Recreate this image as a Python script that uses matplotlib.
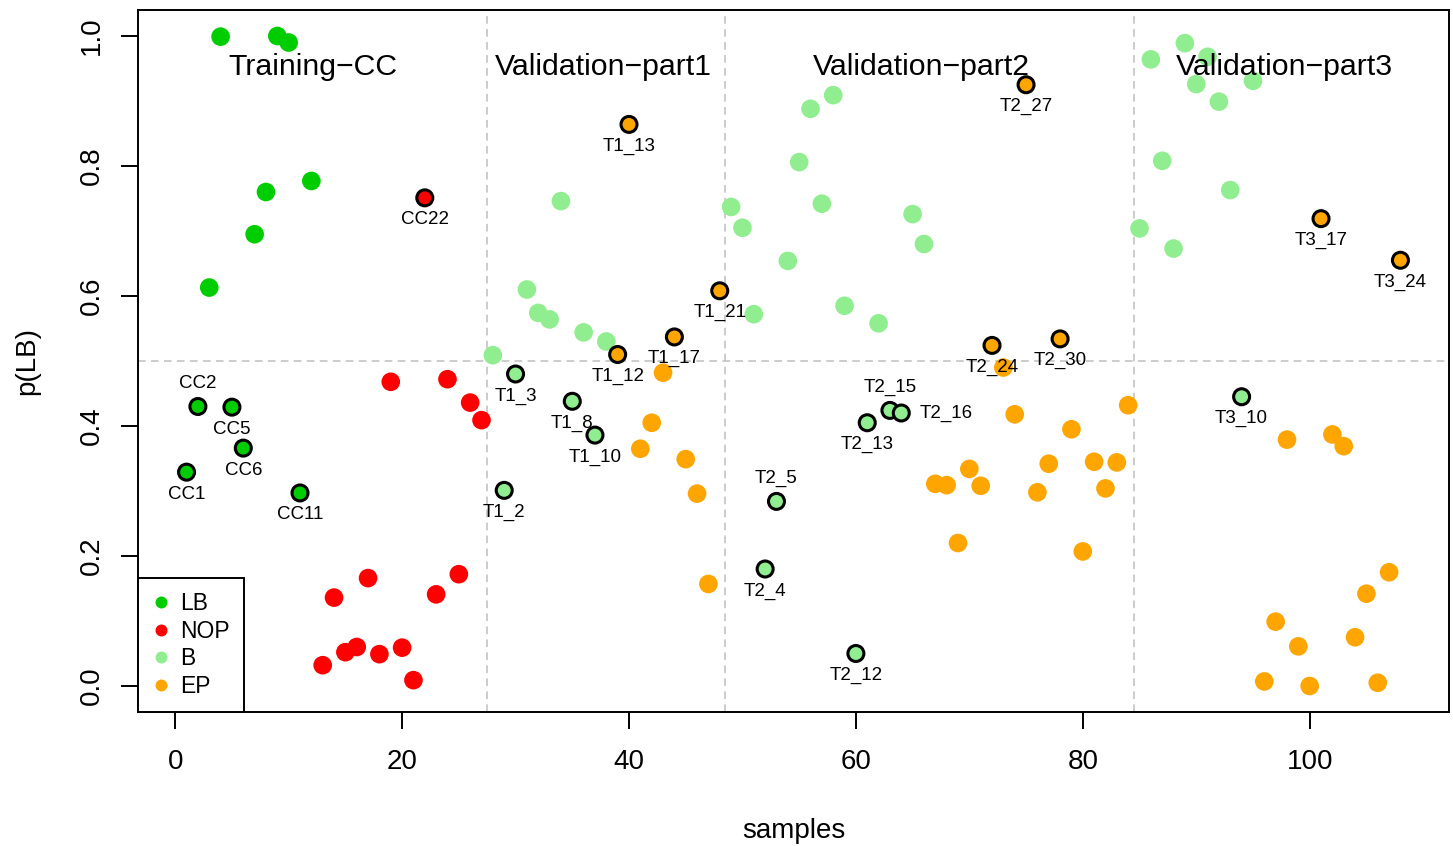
#!/usr/bin/env python3

import numpy as np
import matplotlib
matplotlib.use("Agg")
import matplotlib.pyplot as plt
from matplotlib.lines import Line2D

plt.rcParams['font.family'] = ['Liberation Sans', 'DejaVu Sans']

# p(LB) per sample, by group
training_p = [0.329, 0.430, 0.613, 0.999, 0.429, 0.366, 0.695, 0.760, 1.000,
              0.990, 0.297, 0.777, 0.032, 0.136, 0.052, 0.060, 0.166, 0.049,
              0.468, 0.059, 0.009, 0.751, 0.141, 0.472, 0.172, 0.436, 0.409]
part1_p = [0.509, 0.301, 0.480, 0.610, 0.574, 0.564, 0.746, 0.438, 0.544,
           0.386, 0.530, 0.510, 0.864, 0.365, 0.405, 0.482, 0.537, 0.349,
           0.296, 0.157, 0.608]
part2_p = [0.737, 0.705, 0.572, 0.180, 0.284, 0.654, 0.806, 0.888, 0.742,
           0.909, 0.585, 0.050, 0.405, 0.558, 0.424, 0.420, 0.726, 0.680,
           0.311, 0.309, 0.220, 0.334, 0.308, 0.524, 0.490, 0.418, 0.925,
           0.298, 0.342, 0.534, 0.395, 0.207, 0.345, 0.304, 0.344, 0.432]
part3_p = [0.704, 0.964, 0.808, 0.673, 0.989, 0.926, 0.968, 0.899, 0.763,
           0.445, 0.931, 0.007, 0.099, 0.379, 0.061, 0.000, 0.719, 0.387,
           0.369, 0.075, 0.142, 0.005, 0.175, 0.655]

training_cls = ["LB"] * 12 + ["NOP"] * 15
part1_cls = ["B"] * 11 + ["EP"] * 10
part2_cls = ["B"] * 18 + ["EP"] * 18
part3_cls = ["B"] * 11 + ["EP"] * 13

group_names = ["Training\u2212CC", "Validation\u2212part1",
               "Validation\u2212part2", "Validation\u2212part3"]
group_prefix = ["CC", "T1_", "T2_", "T3_"]
group_title_x = [12.1, 37.7, 65.8, 97.8]

# misclassified samples that get a black ring and a name
flagged = ["CC1", "CC2", "CC5", "CC6", "CC11", "CC22",
           "T1_2", "T1_3", "T1_8", "T1_10", "T1_12", "T1_13", "T1_17", "T1_21",
           "T2_4", "T2_5", "T2_12", "T2_13", "T2_15", "T2_16", "T2_24",
           "T2_27", "T2_30",
           "T3_10", "T3_17", "T3_24"]
label_above = ["CC2", "T2_5", "T2_15"]
label_right = ["T2_16"]

colors = {"LB": "#00CD00", "NOP": "#FF0000", "B": "#90EE90", "EP": "#FFA500"}


def main():
    groups_p = [training_p, part1_p, part2_p, part3_p]
    groups_c = [training_cls, part1_cls, part2_cls, part3_cls]

    p = np.concatenate(groups_p)
    cls = sum(groups_c, [])
    names = []
    for pref, vals in zip(group_prefix, groups_p):
        names += ["%s%d" % (pref, i + 1) for i in range(len(vals))]
    x = np.arange(1, len(p) + 1)
    sizes = np.cumsum([len(g) for g in groups_p])

    fig = plt.figure(figsize=(14.53, 8.46), dpi=100)
    ax = fig.add_axes([138 / 1453, 134 / 846, 1311 / 1453, 702 / 846])

    # group separators and the 0.5 threshold
    for b in sizes[:-1]:
        ax.axvline(b + 0.5, color="#BEBEBE", lw=1.1, ls=(0, (5, 3.5)), zorder=1)
    ax.axhline(0.5, color="#BEBEBE", lw=1.1, ls=(0, (5, 3.5)), zorder=1)

    fl = np.array([n in flagged for n in names])
    cols = [colors[c] for c in cls]
    ax.scatter(x[~fl], p[~fl], s=180, c=[c for c, f in zip(cols, fl) if not f],
               linewidths=0, zorder=2)
    ax.scatter(x[fl], p[fl], s=11.5 ** 2, c=[c for c, f in zip(cols, fl) if f],
               edgecolors="black", linewidths=2.2, zorder=3)

    for xi, yi, n, f in zip(x, p, names, fl):
        if not f:
            continue
        if n in label_above:
            off, ha = (0, 16.5), "center"
        elif n in label_right:
            off, ha = (13, 0), "left"
        else:
            off, ha = (0, -15.8), "center"
        ax.annotate(n, (xi, yi), xytext=off, textcoords="offset points",
                    ha=ha, va="center", fontsize=13.5, zorder=5)

    for gx, gn in zip(group_title_x, group_names):
        ax.text(gx, 0.94, gn, ha="center", va="baseline", fontsize=21.8, zorder=5)

    ax.set_xlim(1 - 0.04 * 107, 108 + 0.04 * 107)
    ax.set_ylim(-0.04, 1.04)
    ax.set_xticks([0, 20, 40, 60, 80, 100])
    ax.set_yticks([0.0, 0.2, 0.4, 0.6, 0.8, 1.0])
    ax.set_yticklabels(["0.0", "0.2", "0.4", "0.6", "0.8", "1.0"])
    ax.tick_params(length=12.5, width=1.4, labelsize=20)
    ax.tick_params(axis="x", pad=14)
    ax.tick_params(axis="y", pad=11)
    plt.setp(ax.get_yticklabels(), rotation=90, va="center")
    for s in ax.spines.values():
        s.set_linewidth(1.4)

    ax.set_xlabel("samples", fontsize=20, va="center")
    ax.xaxis.set_label_coords(0.5, -0.1695)
    ax.set_ylabel("p(LB)", fontsize=20, va="center")
    ax.yaxis.set_label_coords(-0.0847, 0.5)

    handles = [Line2D([], [], ls="none", marker="o", ms=8.6, mew=0,
                      color=colors[k]) for k in ["LB", "NOP", "B", "EP"]]
    leg = ax.legend(handles, ["LB", "NOP", "B", "EP"], loc="lower left",
                    borderaxespad=0, fancybox=False, fontsize=16.5,
                    handlelength=0.8, handletextpad=0.45, borderpad=0.6,
                    labelspacing=0.21, framealpha=1)
    leg.get_frame().set_edgecolor("black")
    leg.get_frame().set_linewidth(1.4)
    leg.set_zorder(6)

    fig.savefig("out.png", dpi=100)


if __name__ == "__main__":
    main()
